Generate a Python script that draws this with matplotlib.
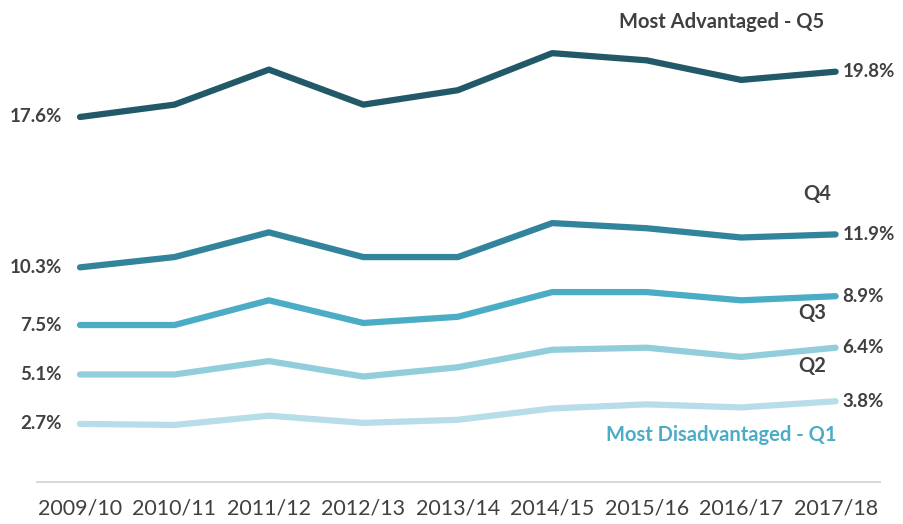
import matplotlib
matplotlib.use('Agg')
import matplotlib.pyplot as plt

years = ['2009/10', '2010/11', '2011/12', '2012/13', '2013/14',
         '2014/15', '2015/16', '2016/17', '2017/18']
q5 = [17.6, 18.2, 19.9, 18.2, 18.9, 20.7, 20.35, 19.4, 19.8]
q4 = [10.3, 10.8, 12.0, 10.8, 10.8, 12.45, 12.2, 11.75, 11.9]
q3 = [7.5, 7.5, 8.7, 7.6, 7.9, 9.1, 9.1, 8.7, 8.9]
q2 = [5.1, 5.1, 5.75, 5.0, 5.45, 6.3, 6.4, 5.95, 6.4]
q1 = [2.7, 2.65, 3.1, 2.75, 2.9, 3.45, 3.65, 3.5, 3.8]
names = ['Most Advantaged - Q5', 'Q4', 'Q3', 'Q2', 'Most Disadvantaged - Q1']
series = [q5, q4, q3, q2, q1]
colors = ['#215968', '#31849b', '#4bacc6', '#92cddc', '#b7dee8']

plt.rcParams['font.family'] = ['Lato', 'DejaVu Sans']
txt = '#404040'
kw = dict(fontsize=13.5, fontweight='bold')
kn = dict(fontsize=14.5, fontweight='bold')

fig = plt.figure(figsize=(9.04, 5.24), dpi=100)
ax = fig.add_axes([37 / 904, 1 - 482 / 524, (880 - 37) / 904, 482 / 524])
x = list(range(len(years)))
for vals, c in zip(series, colors):
    ax.plot(x, vals, color=c, lw=4.5, solid_capstyle='round', solid_joinstyle='round')
    ax.annotate(f'{vals[0]:.1f}%', (0, vals[0]), xytext=(-13, 0), textcoords='offset points',
                ha='right', va='center', color=txt, **kw)
    ax.annotate(f'{vals[-1]:.1f}%', (8, vals[-1]), xytext=(5, 0), textcoords='offset points',
                ha='left', va='center', color=txt, **kw)

# series names
ax.annotate(names[0], (8, q5[-1]), xytext=(-8, 36), textcoords='offset points',
            ha='right', va='center', color=txt, **kn)
ax.annotate(names[1], (8, q4[-1]), xytext=(-13, 29), textcoords='offset points',
            ha='center', va='center', color=txt, **kn)
ax.annotate(names[2], (8, q3[-1]), xytext=(-7, -12), textcoords='offset points',
            ha='right', va='center', color=txt, **kn)
ax.annotate(names[3], (8, q2[-1]), xytext=(-7, -13), textcoords='offset points',
            ha='right', va='center', color=txt, **kn)
ax.annotate(names[4], (8, q1[-1]), xytext=(1, -24), textcoords='offset points',
            ha='right', va='center', color='#4bacc6', **kn)

ax.set_xlim(-0.455, 8.47)
ax.set_ylim(-0.12, 23.28)
ax.set_xticks(x)
ax.set_xticklabels(years, fontsize=15.5, color=txt)
ax.tick_params(axis='x', length=0, pad=12)
ax.set_yticks([])
for s in ['top', 'left', 'right']:
    ax.spines[s].set_visible(False)
ax.spines['bottom'].set_color('#d9d9d9')
ax.spines['bottom'].set_linewidth(1.5)

fig.savefig('out.png', dpi=100)
